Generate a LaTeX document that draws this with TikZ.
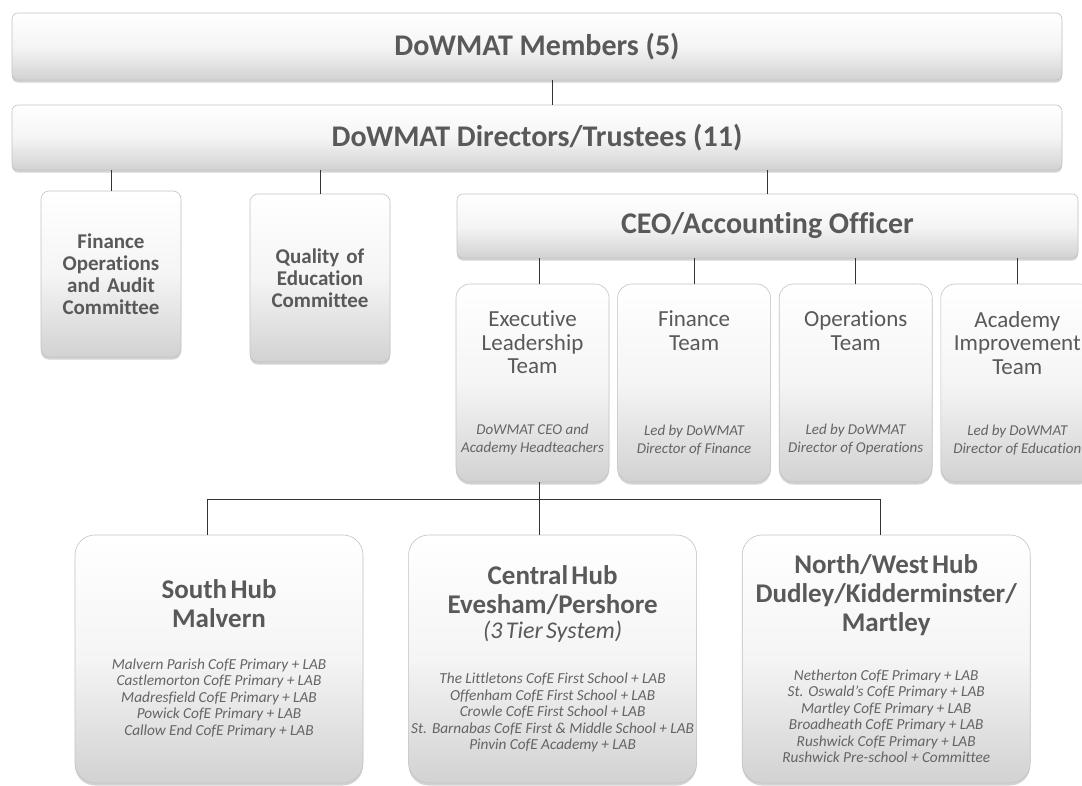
\documentclass[tikz,border=0pt]{standalone}
\usepackage{fontspec}
\setmainfont{Carlito}[Ligatures={TeX,NoCommon}]
\usetikzlibrary{positioning,shadows}

\definecolor{textgrey}{RGB}{89,89,89}
\definecolor{notegrey}{RGB}{100,100,100}
\definecolor{edgegrey}{RGB}{195,195,195}
\definecolor{shadegrey}{RGB}{210,210,210}

\newcommand{\barfont}{\bfseries\fontsize{30}{32}\selectfont}
\newcommand{\comfont}{\bfseries\fontsize{21}{22}\selectfont}
\newcommand{\teamfont}{\fontsize{23}{23.5}\selectfont}
\newcommand{\ledfont}{\color{notegrey}\itshape\fontsize{15}{18}\selectfont}
\newcommand{\hubfont}{\bfseries\fontsize{27}{29}\selectfont}
\newcommand{\tierfont}{\itshape\fontsize{24}{25}\selectfont}
\newcommand{\schoolfont}{\color{notegrey}\itshape\fontsize{15.3}{16.5}\selectfont}
\newcommand{\teamtext}[2]{\vbox to 142pt{\centering\teamfont #1\par\vfill\ledfont #2\par}}

\begin{document}
\begin{tikzpicture}[x=1pt, y=-1pt,
    panel/.style={draw=edgegrey, line width=0.6pt, top color=white, bottom color=shadegrey,
      middle color=white!96!black, text=textgrey, inner sep=0pt,
      drop shadow={shadow xshift=0pt, shadow yshift=-2.5pt, opacity=0.35}},
    barbox/.style={panel, rounded corners=6pt, minimum width=1050pt, minimum height=67pt, font=\barfont},
    combox/.style={panel, rounded corners=8pt, minimum width=140pt, minimum height=166pt,
      text width=140pt, align=center, font=\comfont},
    teambox/.style={panel, rounded corners=14pt, minimum width=153pt, minimum height=198pt,
      text width=153pt, align=center},
    hubbox/.style={panel, rounded corners=20pt, minimum width=288pt, minimum height=248pt,
      text width=288pt, align=center},
    orgline/.style={draw=black!80, line width=1pt},
  ]
  \useasboundingbox (0,0) rectangle (1082,785);
  \node[barbox] (members)   at (537,46.5)            {DoWMAT Members (5)};
  \node[barbox, minimum height=65pt] (directors) at (537,137.5) {DoWMAT Directors/Trustees (11)};
  \draw[orgline] ([xshift=15pt]members.south) -- ([xshift=15pt]directors.north);
  \node[combox] (foac)      at (111,274)             {Finance\\Operations\\and Audit\\Committee};
  \draw[orgline] (directors.south -| foac.north) -- (foac.north);
  \node[combox, minimum height=168pt] (qec) at (320,278) {Quality of\\Education\\Committee};
  \draw[orgline] (directors.south -| qec.north) -- (qec.north);
  \node[barbox, minimum width=621pt, minimum height=64pt] (ceo) at (767.5,226) {CEO/Accounting Officer};
  \draw[orgline] (directors.south -| ceo.north) -- (ceo.north);
  % teams under the CEO
  \node[teambox] (elt)      at (532.5,383)           {\teamtext{Executive\\Leadership\\Team}{DoWMAT CEO and\\Academy Headteachers}};
  \draw[orgline] ([xshift=7pt]ceo.south -| elt.north) -- ([xshift=7pt]elt.north);
  \node[teambox] (fint)     [right=8pt of elt]       {\teamtext{Finance\\Team}{Led by DoWMAT\\Director of Finance}};
  \draw[orgline] (ceo.south -| fint.north) -- (fint.north);
  \node[teambox] (opst)     [right=8pt of fint]      {\teamtext{Operations\\Team}{Led by DoWMAT\\Director of Operations}};
  \draw[orgline] (ceo.south -| opst.north) -- (opst.north);
  \node[teambox] (ait)      [right=8pt of opst]      {\teamtext{Academy\\Improvement\\Team}{Led by DoWMAT\\Director of Education}};
  \draw[orgline] (ceo.south -| ait.north) -- (ait.north);
  % hubs
  \node[hubbox] (south)     at (219,659)             {{\hubfont South Hub\\Malvern\par}\vspace{25pt}
    {\schoolfont Malvern Parish CofE Primary + LAB\\Castlemorton CofE Primary + LAB\\Madresfield CofE Primary + LAB\\Powick CofE Primary + LAB\\Callow End CofE Primary + LAB\par}};
  \node[hubbox] (central)   [right=45pt of south]    {{\hubfont Central Hub\\Evesham/Pershore\par}{\tierfont (3 Tier System)\par}\vspace{29pt}
    {\schoolfont The Littletons CofE First School + LAB\\Offenham CofE First School + LAB\\Crowle CofE First School + LAB\\St. Barnabas CofE First \& Middle School + LAB\\Pinvin CofE Academy + LAB\par}};
  \node[hubbox] (northwest) [right=45pt of central]  {{\hubfont North/West Hub\\Dudley/Kidderminster/\\Martley\par}\vspace{32pt}
    {\schoolfont Netherton CofE Primary + LAB\\St. Oswald's CofE Primary + LAB\\Martley CofE Primary + LAB\\Broadheath CofE Primary + LAB\\Rushwick CofE Primary + LAB\\Rushwick Pre-school + Committee\par}};
  \coordinate (hubbus) at (0,499);
  \draw[orgline] ([xshift=7pt]elt.south) -- ([xshift=7pt]elt.south |- central.north);
  \draw[orgline] ([xshift=-12pt]south.north) |- ([xshift=-6pt]northwest.north |- hubbus) -- ([xshift=-6pt]northwest.north);
\end{tikzpicture}
\end{document}
